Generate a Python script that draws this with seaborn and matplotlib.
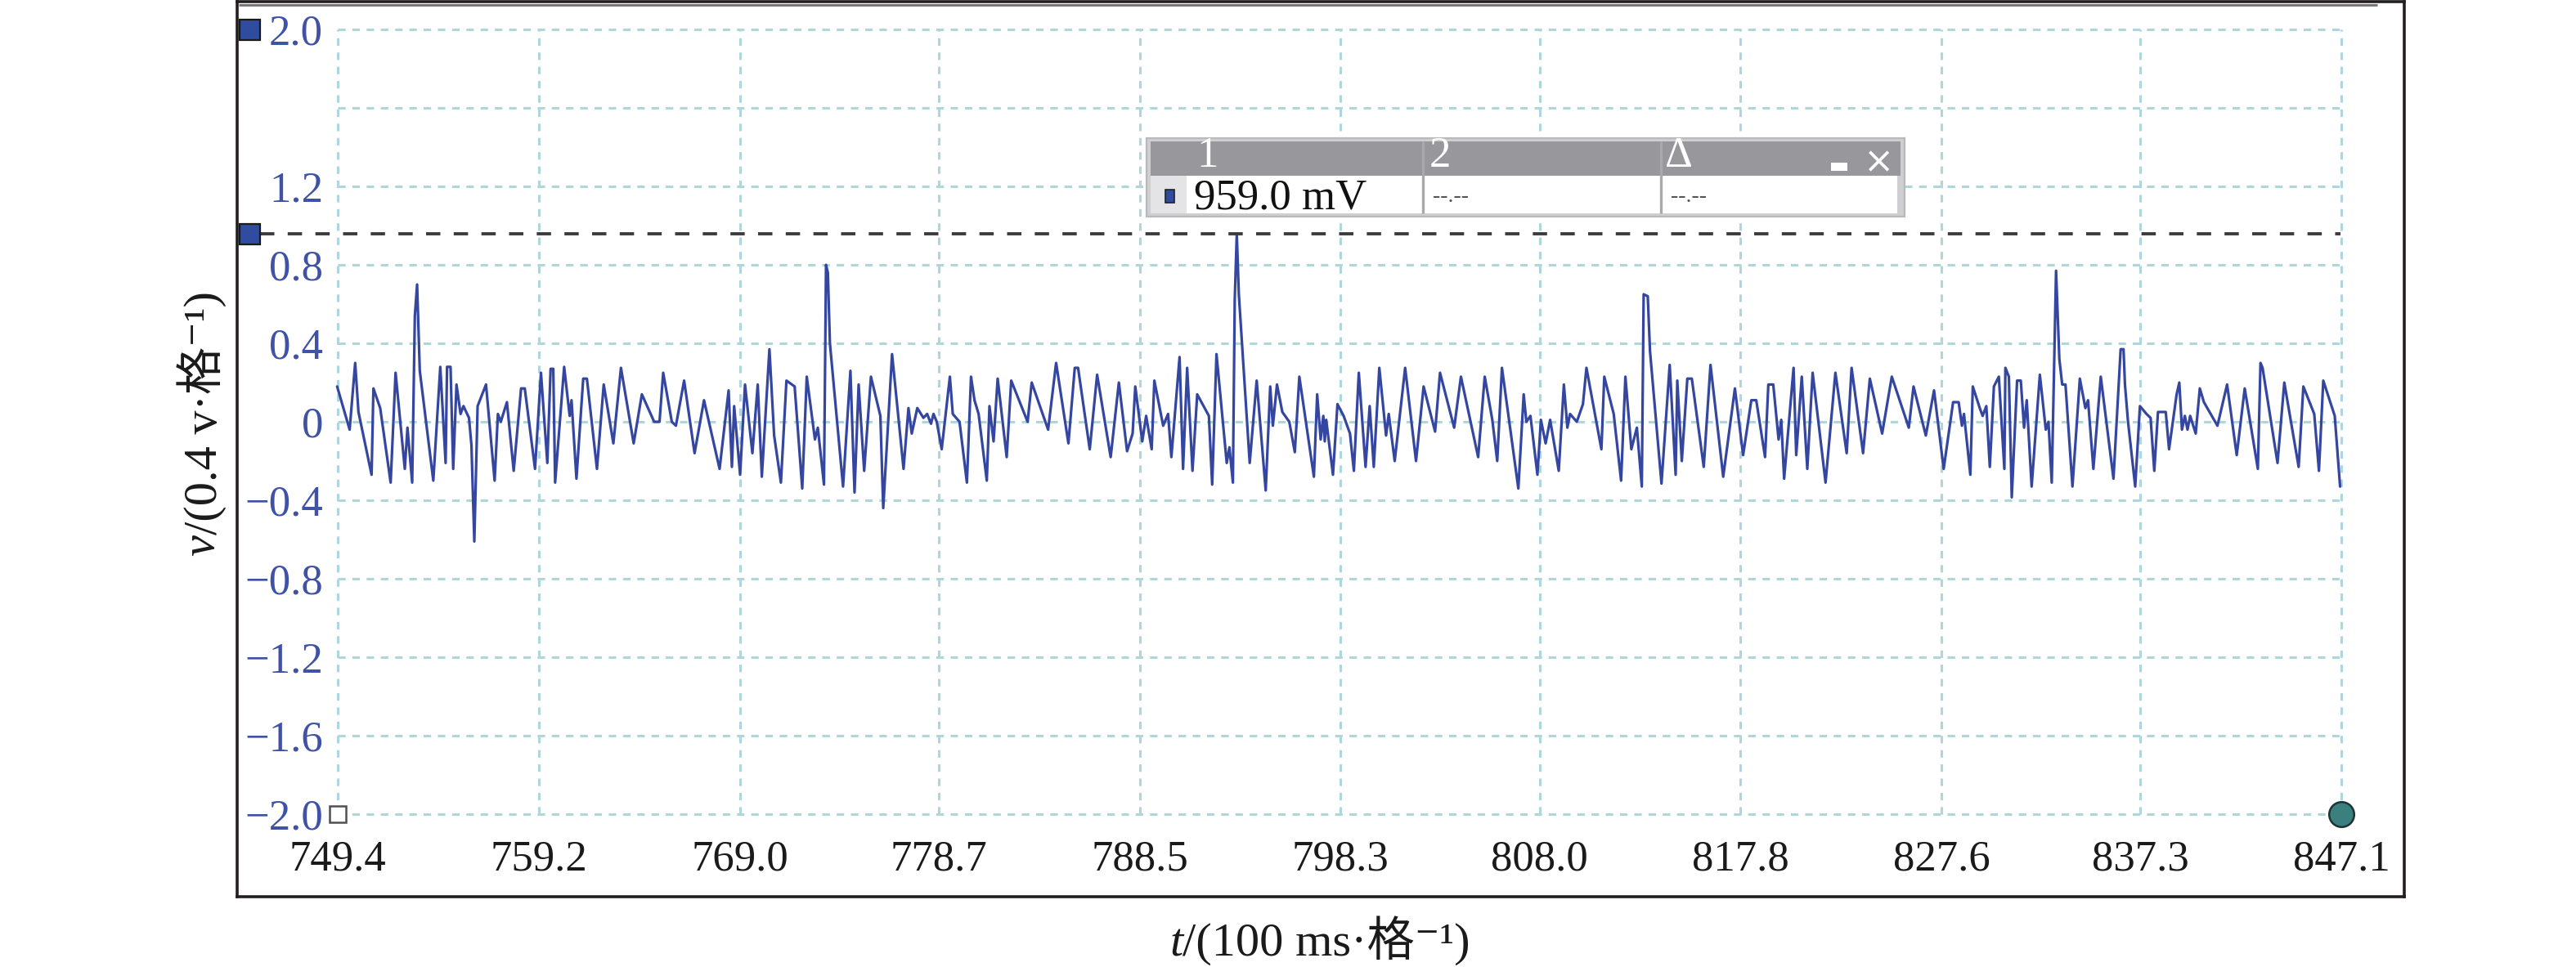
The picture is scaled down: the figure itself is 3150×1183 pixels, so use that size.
import matplotlib
matplotlib.use("Agg")
import matplotlib.pyplot as plt
from matplotlib.patches import Rectangle
import seaborn as sns

# ====================== DATA ======================
x_ticks = [749.4, 759.2, 769.0, 778.7, 788.5, 798.3, 808.0, 817.8, 827.6, 837.3, 847.1]
y_ticks = [-2.0, -1.6, -1.2, -0.8, -0.4, 0.0, 0.4, 0.8, 1.2, 1.6, 2.0]
y_tick_labels = ['−2.0', '−1.6', '−1.2', '−0.8', '−0.4', '0', '0.4', '0.8', '1.2', '', '2.0']
cursor_value = 0.959          # cursor 1 level (v)
cursor_text = '959.0 mV'
cursor_cols = ['1', '2', 'Δ']

# signal turning points, time (t) and voltage (v)
t = [749.37, 749.98, 750.25, 750.41, 751.05, 751.14, 751.47, 751.98, 752.22, 752.67,
     752.80, 753.03, 753.16, 753.27, 753.40, 754.06, 754.40, 754.66, 754.73, 754.90,
     755.03, 755.19, 755.39, 755.53, 755.80, 755.92, 756.06, 756.12, 756.22, 756.63,
     757.05, 757.21, 757.35, 757.65, 757.98, 758.34, 758.52, 759.02, 759.31, 759.62,
     759.78, 759.91, 760.00, 760.44, 760.71, 760.80, 761.04, 761.37, 761.55, 762.04,
     762.37, 762.84, 763.21, 763.83, 764.23, 764.83, 765.09, 765.27, 765.69, 765.89,
     766.29, 766.80, 767.26, 768.02, 768.46,
     768.62, 768.73, 769.02, 769.26, 769.62, 769.88, 770.08, 770.45, 770.68, 771.01,
     771.28, 771.68, 772.05, 772.27, 772.67, 772.81, 773.11, 773.21, 773.30, 773.40,
     774.04, 774.40, 774.60, 774.80, 775.07, 775.40, 775.86, 776.00, 776.43, 776.99,
     777.23, 777.39, 777.66, 777.96, 778.14, 778.33, 778.45, 778.61, 778.85, 779.25,
     779.39, 779.72, 780.08, 780.28, 780.45, 780.65, 781.05, 781.18, 781.38, 781.58,
     782.02, 782.24, 783.04, 783.24, 784.04, 784.43, 785.03, 785.34, 785.50, 786.07,
     786.43, 787.09, 787.49, 787.89,
     788.16, 788.29, 788.63, 788.82, 789.09, 789.22, 789.65, 789.89, 790.05, 790.45,
     790.62, 790.82, 791.08, 791.31, 791.88, 792.04, 792.25, 792.75, 792.88, 793.05,
     793.14, 793.24, 793.34, 793.87, 794.21, 794.65, 794.87, 795.00, 795.20, 795.46,
     795.80, 796.07, 796.29, 797.00, 797.16, 797.33, 797.46, 797.53, 797.60, 797.93,
     798.15, 798.45, 798.76, 798.95, 799.19, 799.52, 799.72, 799.92, 800.19, 800.52,
     800.65, 800.94, 801.45, 801.98, 802.35, 802.91, 803.15, 803.84, 804.17, 805.01,
     805.33, 805.70, 805.94, 806.17, 806.97, 807.23, 807.36, 807.56,
     807.90, 808.07, 808.30, 808.52, 808.94, 809.19, 809.36, 809.49, 809.82, 810.12,
     810.29, 811.02, 811.16, 811.62, 811.98, 812.19, 812.48, 812.75, 812.99, 813.08,
     813.28, 813.39, 813.95, 814.35, 814.64, 814.72, 814.94, 815.21, 815.43, 816.01,
     816.34, 816.96, 817.53, 817.93, 818.33, 818.57, 819.00, 819.16, 819.40, 819.66,
     819.79, 819.93, 820.39, 820.52, 820.79, 821.06, 821.32, 821.95, 822.43, 822.98,
     823.22, 823.78, 824.11, 824.71, 825.18, 826.01, 826.24, 826.84,
     827.24, 827.71, 828.17, 828.44, 828.60, 828.70, 829.01, 829.13, 829.47, 829.61,
     829.79, 829.96, 830.16, 830.40, 830.67, 830.72, 830.89, 831.03, 831.29, 831.47,
     831.63, 831.76, 832.00, 832.40, 832.69, 832.82, 832.98, 833.19, 833.35, 833.49,
     833.65, 833.99, 834.35, 834.62, 834.75, 835.01, 835.37, 835.99, 836.34, 836.48,
     836.55, 836.70, 837.05, 837.28, 837.60, 837.80, 837.98, 838.16, 838.54, 838.70,
     839.07, 839.20, 839.33, 839.47, 839.60, 839.73, 840.00, 840.20, 840.40, 841.06,
     841.53, 842.00, 842.39, 843.03, 843.16, 843.26, 843.99, 844.32, 845.02, 845.25,
     845.78, 846.01, 846.22, 846.78, 847.04]
v = [0.18, -0.04, 0.30, 0.05, -0.27, 0.17, 0.07, -0.31, 0.25, -0.24,
     -0.03, -0.31, 0.54, 0.70, 0.26, -0.30, 0.28, -0.21, 0.28, 0.28,
     -0.24, 0.19, 0.04, 0.08, 0.02, -0.12, -0.61, -0.35, 0.08, 0.19,
     -0.30, 0.04, 0.00, 0.10, -0.25, 0.17, 0.17, -0.24, 0.25, -0.21,
     0.27, 0.27, -0.31, 0.28, 0.03, 0.11, -0.29, 0.22, 0.22, -0.24,
     0.19, -0.11, 0.275, -0.11, 0.14, 0.00, 0.00, 0.25, 0.00, -0.02,
     0.21, -0.16, 0.11, -0.24, 0.16,
     -0.23, 0.08, -0.27, 0.19, -0.16, 0.19, -0.28, 0.37, -0.07, -0.31,
     0.21, 0.18, -0.34, 0.23, -0.09, -0.03, -0.32, 0.80, 0.76, 0.40,
     -0.33, 0.26, -0.36, 0.19, -0.25, 0.23, 0.03, -0.44, 0.345, -0.24,
     0.07, -0.06, 0.07, 0.02, 0.04, -0.01, 0.04, 0.00, -0.14, 0.23,
     0.04, 0.00, -0.31, 0.23, 0.11, 0.04, -0.30, 0.08, -0.10, 0.22,
     -0.18, 0.21, 0.00, 0.20, -0.04, 0.30, -0.11, 0.275, 0.275, -0.14,
     0.24, -0.18, 0.20, -0.15,
     -0.06, 0.18, -0.10, 0.03, -0.14, 0.21, -0.02, 0.04, -0.18, 0.33,
     -0.24, 0.275, -0.25, 0.14, 0.03, -0.32, 0.345, -0.21, -0.13, -0.31,
     0.62, 0.959, 0.65, -0.21, 0.21, -0.35, 0.18, -0.02, 0.19, 0.05,
     0.00, -0.155, 0.23, -0.28, 0.14, -0.09, 0.03, -0.10, 0.01, -0.27,
     0.09, 0.03, -0.06, -0.25, 0.25, -0.23, 0.08, -0.23, 0.275, -0.07,
     0.04, -0.20, 0.275, -0.20, 0.18, -0.05, 0.25, -0.03, 0.23, -0.18,
     0.23, 0.01, -0.20, 0.275, -0.34, 0.14, 0.00, 0.03,
     -0.27, 0.01, -0.11, 0.01, -0.25, 0.19, -0.03, 0.04, 0.00, 0.09,
     0.275, -0.14, 0.23, 0.04, -0.30, 0.23, -0.14, -0.03, -0.33, 0.65,
     0.64, 0.36, -0.315, 0.29, -0.27, 0.21, -0.20, 0.22, 0.22, -0.23,
     0.29, -0.28, 0.17, -0.17, 0.11, 0.11, -0.18, 0.19, 0.19, -0.09,
     0.01, -0.29, 0.275, -0.17, 0.23, -0.24, 0.25, -0.31, 0.25, -0.16,
     0.275, -0.16, 0.22, -0.06, 0.23, -0.03, 0.18, -0.07,
     0.16, -0.24, 0.10, 0.10, -0.02, 0.04, -0.27, 0.18, 0.07, 0.03,
     0.08, -0.23, 0.18, 0.23, -0.24, 0.275, 0.23, -0.385, 0.21, 0.21,
     -0.03, 0.11, -0.33, 0.24, -0.04, 0.00, -0.31, 0.77, 0.32, 0.19,
     0.19, -0.33, 0.22, 0.07, 0.11, -0.24, 0.23, -0.29, 0.37, 0.37,
     0.19, 0.00, -0.33, 0.08, 0.04, 0.02, -0.25, 0.05, 0.05, -0.14,
     0.14, 0.20, -0.04, 0.03, -0.04, 0.03, -0.06, 0.17, 0.10, -0.02,
     0.19, -0.17, 0.17, -0.24, 0.30, 0.275, -0.21, 0.20, -0.23, 0.18,
     0.04, -0.25, 0.21, 0.03, -0.33]

# ====================== STYLE ======================
TRACE_BLUE = '#3446a0'
LABEL_BLUE = '#4052a6'
GRID_TEAL = '#aed6dc'
INK = '#231f20'
SERIF = ['Liberation Serif', 'Noto Sans CJK SC', 'DejaVu Serif']

sns.set_style('white')
plt.rcParams['font.family'] = SERIF
plt.rcParams['axes.unicode_minus'] = True

W, H = 3150, 1183
fig = plt.figure(figsize=(W / 200, H / 200), dpi=200)
ax = fig.add_axes([290 / W, 1 - 1097 / H, 2650 / W, 1095 / H])
ax.set_xlim(744.495, 850.17)
ax.set_ylim(-2.4208, 2.1417)

# dashed grid only inside the screen area
ax.vlines(x_ticks, y_ticks[0], y_ticks[-1], colors=GRID_TEAL, lw=1.1,
          linestyles=(0, (3, 2.7)), zorder=1)
ax.hlines(y_ticks, x_ticks[0], x_ticks[-1], colors=GRID_TEAL, lw=1.1,
          linestyles=(0, (3, 2.7)), zorder=1)

# the trace
sns.lineplot(x=t, y=v, ax=ax, sort=False, estimator=None, color=TRACE_BLUE,
             lw=1.15, zorder=3)

# cursor level line and handles
ax.axhline(cursor_value, xmin=28 / 2650, xmax=2572 / 2650, color='#3c3c3e',
           lw=1.4, ls=(0, (4.5, 4.2)), zorder=4)
ax.plot([0.0057, 0.0057], [y_ticks[-1], cursor_value], transform=ax.get_yaxis_transform(),
        ls='none', marker='s', ms=9, mfc='#2f4c9f', mec='#1a1a1a', mew=0.8,
        clip_on=False, zorder=6)
ax.plot([x_ticks[0]], [y_ticks[0]], ls='none', marker='s', ms=7.5, mfc='white',
        mec='#505052', mew=0.9, zorder=6, clip_on=False)
ax.plot([x_ticks[-1]], [y_ticks[0]], ls='none', marker='o', ms=11, mfc='#3b7f7e',
        mec='#1c3434', mew=0.9, zorder=6, clip_on=False)

# ticks drawn inside the frame
ax.set_xticks(x_ticks)
ax.set_xticklabels([f'{x:.1f}' for x in x_ticks], fontfamily='Liberation Serif')
ax.set_yticks(y_ticks)
ax.set_yticklabels(y_tick_labels, fontfamily='Liberation Serif')
ax.tick_params(axis='both', length=0, labelsize=19)
ax.tick_params(axis='x', pad=-25, labelcolor='#1a1a1a')
ax.tick_params(axis='y', pad=-37.8, labelcolor=LABEL_BLUE)
ax.set_xlabel('')
ax.set_ylabel('')
for s in ax.spines.values():
    s.set_color(INK)
    s.set_linewidth(1.3)

# ====================== OVERLAY (pixel coords) ======================
ov = fig.add_axes([0, 0, 1, 1], zorder=10)
ov.set_xlim(0, W)
ov.set_ylim(H, 0)
ov.axis('off')

ov.plot([292, 2907], [5.5, 5.5], color='#76777b', lw=1.1, solid_capstyle='butt')

# cursor readout box
ov.add_patch(Rectangle((1402, 169), 927, 96, fc='#cfcfd1', ec='#b9b9bb', lw=0.8))
ov.add_patch(Rectangle((1407, 173), 917, 42, fc='#98989c', ec='none'))
ov.add_patch(Rectangle((1407, 215), 44, 46, fc='#e4e4e6', ec='none'))
ov.add_patch(Rectangle((1451, 215), 869, 46, fc='white', ec='none'))
ov.vlines([1740, 2031], 173, 261, colors='#a9a9ab', lw=1.2)
for xpos, lab in zip([1463, 1748, 2036], cursor_cols):
    ov.text(xpos, 215, lab, color='white', fontsize=19, va='bottom', ha='left')
ov.add_patch(Rectangle((2239, 199), 20, 10, fc='white', ec='none'))
ov.text(2298, 199, '×', color='white', fontsize=16, ha='center', va='center',
        family='DejaVu Sans')
ov.add_patch(Rectangle((1425, 232), 11, 16, fc='#2f4c9f', ec='#222222', lw=0.6))
ov.text(1460, 218, cursor_text, color='#111111', fontsize=19, va='top', ha='left')
for xpos in [1752, 2043]:
    ov.text(xpos, 247, '--.--', color='#555555', fontsize=10, va='baseline', ha='left')

# axis labels: italic symbol + unit part
vt = ov.text(247, 680, 'v', style='italic', rotation=90, ha='center', va='bottom',
             fontsize=21, color='#1a1a1a')
ov.annotate('/(0.4 v·格⁻¹)', xy=(0.5, 1), xycoords=vt, ha='center', va='bottom',
            rotation=90, fontsize=21, color='#1a1a1a')
tt = ov.text(1430, 1155, 't', style='italic', ha='left', va='center', fontsize=21,
             color='#1a1a1a')
ov.annotate('/(100 ms·格⁻¹)', xy=(1, 0), xycoords=tt, ha='left', va='bottom',
            fontsize=21, color='#1a1a1a')

fig.savefig('out.png', dpi=200)
